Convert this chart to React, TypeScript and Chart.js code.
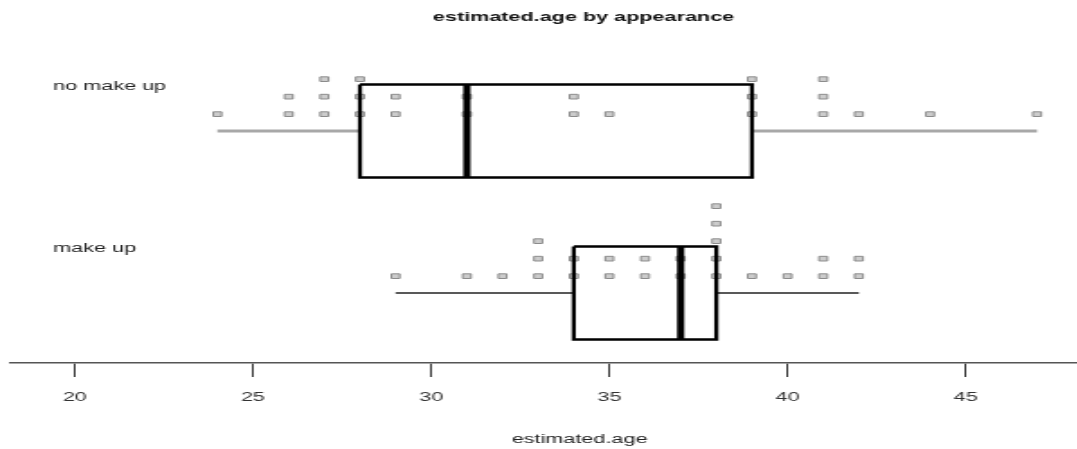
import React, { useEffect, useRef } from "react";
import { Chart, registerables } from "chart.js";

Chart.register(...registerables);

// ---- data ----
const categories = ["no make up", "make up"];
const noMakeUpAges = [24, 26, 26, 27, 27, 27, 28, 28, 28, 29, 29, 31, 31, 34, 34, 35, 39, 39, 39, 41, 41, 41, 42, 44, 47];
const makeUpAges = [29, 31, 32, 33, 33, 33, 34, 34, 35, 35, 36, 36, 37, 37, 38, 38, 38, 38, 38, 39, 40, 41, 41, 42, 42];
const xTickValues = [20, 25, 30, 35, 40, 45];
const chartTitle = "estimated.age by appearance";
const xAxisTitle = "estimated.age";

const groups = [noMakeUpAges, makeUpAges];

// ---- layout / style constants ----
const STRETCH = 1.8; // the reference is horizontally stretched
const CANVAS_W = 643;
const CANVAS_H = 449;
const VIEW_W = 1077;
const BOX_HALF = 0.287;
const DOT_BASE = 0.104;
const DOT_STEP = 0.108;
const FONT = '"Liberation Sans", Arial, Helvetica, sans-serif';

function fivenum(arr: number[]): number[] {
  const s = [...arr].sort((a, b) => a - b);
  const n = s.length;
  const n4 = Math.floor((n + 3) / 2) / 2;
  const d = [1, n4, (n + 1) / 2, n + 1 - n4, n];
  return d.map((v) => 0.5 * (s[Math.floor(v) - 1] + s[Math.ceil(v) - 1]));
}

function buildDatasets() {
  const datasets: any[] = [];
  groups.forEach((vals, g) => {
    const [, q1, med, q3] = fivenum(vals);
    const iqr = q3 - q1;
    const lo = Math.min(...vals.filter((v) => v >= q1 - 1.5 * iqr));
    const hi = Math.max(...vals.filter((v) => v <= q3 + 1.5 * iqr));
    const whiskerColor = g === 0 ? "#a8a8a8" : "#222222";
    const whiskerWidth = g === 0 ? 3 : 1.3;
    const lineBase = {
      showLine: true,
      pointRadius: 0,
      pointHoverRadius: 0,
      fill: false,
      order: 0,
      borderJoinStyle: "miter",
      borderCapStyle: "butt",
    };
    datasets.push({
      ...lineBase,
      label: categories[g] + " box",
      data: [
        { x: q1, y: g - BOX_HALF },
        { x: q3, y: g - BOX_HALF },
        { x: q3, y: g + BOX_HALF },
        { x: q1, y: g + BOX_HALF },
        { x: q1, y: g - BOX_HALF },
      ],
      borderColor: "#000000",
      borderWidth: 2.3,
    });
    datasets.push({
      ...lineBase,
      label: categories[g] + " median",
      data: [
        { x: med, y: g - BOX_HALF },
        { x: med, y: g + BOX_HALF },
      ],
      borderColor: "#000000",
      borderWidth: 4,
    });
    datasets.push({
      ...lineBase,
      order: 2,
      label: categories[g] + " lower whisker",
      data: [
        { x: lo, y: g },
        { x: q1, y: g },
      ],
      borderColor: whiskerColor,
      borderWidth: whiskerWidth,
    });
    datasets.push({
      ...lineBase,
      order: 2,
      label: categories[g] + " upper whisker",
      data: [
        { x: q3, y: g },
        { x: hi, y: g },
      ],
      borderColor: whiskerColor,
      borderWidth: whiskerWidth,
    });
    const counts: Record<number, number> = {};
    const pts = vals.map((v) => {
      const k = counts[v] || 0;
      counts[v] = k + 1;
      return { x: v, y: g - (DOT_BASE + DOT_STEP * k) };
    });
    datasets.push({
      label: categories[g] + " points",
      data: pts,
      showLine: false,
      order: 1,
      pointStyle: "rect",
      pointRadius: 3.3,
      pointHoverRadius: 3.3,
      pointBorderWidth: 1,
      pointBorderColor: "#8c8c8c",
      pointBackgroundColor: "#cccccc",
    });
  });
  return datasets;
}

const groupLabelPlugin = {
  id: "groupLabels",
  afterDatasetsDraw(chart: any) {
    const { ctx, chartArea, scales } = chart;
    const y = scales.y;
    ctx.save();
    ctx.font = `12px ${FONT}`;
    ctx.fillStyle = "#222222";
    ctx.textAlign = "left";
    ctx.textBaseline = "middle";
    categories.forEach((c, g) => {
      ctx.fillText(c, chartArea.left + 24, y.getPixelForValue(g - BOX_HALF + 0.015));
    });
    ctx.restore();
  },
};

export default function App() {
  const canvasRef = useRef<HTMLCanvasElement | null>(null);

  useEffect(() => {
    if (!canvasRef.current) return;
    const chart = new Chart(canvasRef.current, {
      type: "scatter",
      data: { datasets: buildDatasets() },
      options: {
        responsive: false,
        animation: false,
        devicePixelRatio: 1,
        events: [],
        layout: { padding: { left: 5.56, right: 0, top: 0, bottom: 0 } },
        plugins: {
          legend: { display: false },
          tooltip: { enabled: false },
          title: {
            display: true,
            text: chartTitle,
            color: "#111111",
            font: { family: FONT, size: 12, weight: "bold" },
            padding: { top: 10, bottom: 5.6 },
          },
        },
        scales: {
          x: {
            type: "linear",
            min: 18.18,
            max: 50.15,
            afterBuildTicks: (scale: any) => {
              scale.ticks = xTickValues.map((v) => ({ value: v }));
            },
            grid: {
              display: true,
              drawOnChartArea: false,
              drawTicks: true,
              tickLength: 14,
              color: "#333333",
              lineWidth: 1,
            },
            border: { display: true, color: "#555555", width: 1.6 },
            ticks: {
              padding: 13,
              color: "#333333",
              font: { family: FONT, size: 12 },
              maxRotation: 0,
              autoSkip: false,
            },
            title: {
              display: true,
              text: xAxisTitle,
              color: "#222222",
              font: { family: FONT, size: 12 },
              padding: { top: 15.2, bottom: 2 },
            },
          },
          y: {
            type: "linear",
            reverse: true,
            min: -0.6235,
            max: 1.4321,
            display: false,
          },
        },
      } as any,
      plugins: [groupLabelPlugin],
    });
    return () => chart.destroy();
  }, []);

  return (
    <div
      style={{
        position: "absolute",
        left: 0,
        top: 0,
        width: VIEW_W,
        height: CANVAS_H,
        overflow: "hidden",
        background: "#ffffff",
      }}
    >
      <canvas
        ref={canvasRef}
        width={CANVAS_W}
        height={CANVAS_H}
        style={{ display: "block", width: `${CANVAS_W * STRETCH}px`, height: `${CANVAS_H}px` }}
      />
    </div>
  );
}
